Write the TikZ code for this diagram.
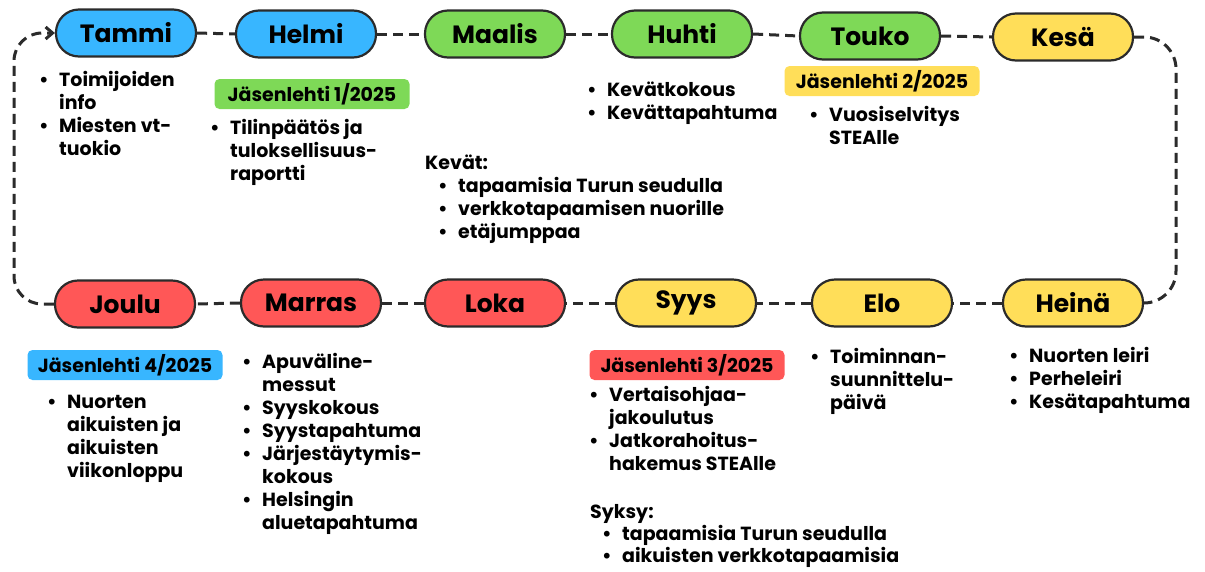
\documentclass[tikz,border=0pt]{standalone}
\usepackage{fontspec}
\setmainfont{Poppins}
\usepackage{tikz}
\usetikzlibrary{positioning, calc}
\usetikzlibrary{arrows.meta}

\definecolor{kblue}{HTML}{38B6FF}
\definecolor{kgreen}{HTML}{7ED957}
\definecolor{kyellow}{HTML}{FFDE59}
\definecolor{kred}{HTML}{FF5757}
\definecolor{kline}{HTML}{2B2B2B}

\newcommand{\bul}{\makebox[20pt][l]{\textbullet}}

\tikzset{
  month/.style={draw=kline, line width=2.2pt, rectangle, rounded corners=23pt,
    minimum width=140pt, minimum height=47pt, inner sep=0pt,
    font=\fontsize{25}{28}\selectfont\bfseries},
  lehti/.style={rectangle, rounded corners=5pt, minimum width=195pt,
    minimum height=30pt, inner sep=0pt, font=\fontsize{19}{21}\selectfont\bfseries},
  items/.style={anchor=base west, inner sep=0pt, align=left,
    font=\fontsize{19}{23}\selectfont\bfseries},
  link/.style={draw=kline, line width=3pt, dash pattern=on 10pt off 6pt}
}

\begin{document}
\begin{tikzpicture}[x=1pt,y=-1pt]
\useasboundingbox (0,0) rectangle (1205,571);

% months, top row
\node[month, fill=kblue]   (tammi)  at (126,33)  {Tammi};
\node[month, fill=kblue]   (helmi)  at (306,34)  {Helmi};
\node[month, fill=kgreen]  (maalis) at (495,34)  {Maalis};
\node[month, fill=kgreen]  (huhti)  at (682,34)  {Huhti};
\node[month, fill=kgreen]  (touko)  at (870,36)  {Touko};
\node[month, fill=kyellow] (kesa)   at (1063,37) {Kesä};

% months, bottom row
\node[month, fill=kred]    (joulu)  at (125,304) {Joulu};
\node[month, fill=kred]    (marras) at (311,303) {Marras};
\node[month, fill=kred]    (loka)   at (495,303) {Loka};
\node[month, fill=kyellow] (syys)   at (686,303) {Syys};
\node[month, fill=kyellow] (elo)    at (882,303) {Elo};
\node[month, fill=kyellow] (heina)  at (1073,303) {Heinä};

% lehdet
\node[lehti, fill=kgreen]  (lehti1) at (312,94)  {Jäsenlehti 1/2025};
\node[lehti, fill=kyellow] (lehti2) at (882,81)  {Jäsenlehti 2/2025};
\node[lehti, fill=kred]    (lehti3) at (687,365) {Jäsenlehti 3/2025};
\node[lehti, fill=kblue]   (lehti4) at (125,365) {Jäsenlehti 4/2025};

% tapahtumat
\node[items] (tammiTxt) at (39,86) {\begin{tabular}[t]{@{}l@{}l@{}}
  \bul & Toimijoiden\\ & info\\ \bul & Miesten vt-\\ & tuokio\end{tabular}};
\node[items] (helmiTxt) at (210,134) {\begin{tabular}[t]{@{}l@{}l@{}}
  \bul & Tilinpäätös ja\\ & tuloksellisuus-\\ & raportti\end{tabular}};
\node[items] (huhtiTxt) at (587,96) {\begin{tabular}[t]{@{}l@{}l@{}}
  \bul & Kevätkokous\\ \bul & Kevättapahtuma\end{tabular}};
\node[items] (toukoTxt) at (809,121) {\begin{tabular}[t]{@{}l@{}l@{}}
  \bul & Vuosiselvitys\\ & STEAlle\end{tabular}};
\node[items] (kevat) at (425,169) {\begin{tabular}[t]{@{}l@{}l@{}l@{}}
  \multicolumn{3}{@{}l@{}}{Kevät:}\\
  \hspace{13pt} & \bul & tapaamisia Turun seudulla\\
  & \bul & verkkotapaamisen nuorille\\
  & \bul & etäjumppaa\end{tabular}};

\node[items] (jouluTxt) at (47,408) {\begin{tabular}[t]{@{}l@{}l@{}}
  \bul & Nuorten\\ & aikuisten ja\\ & aikuisten\\ & viikonloppu\end{tabular}};
\node[items] (marrasTxt) at (242,368) {\begin{tabular}[t]{@{}l@{}l@{}}
  \bul & Apuväline-\\ & messut\\ \bul & Syyskokous\\ \bul & Syystapahtuma\\
  \bul & Järjestäytymis-\\ & kokous\\ \bul & Helsingin\\ & aluetapahtuma\end{tabular}};
\node[items] (syysTxt) at (589,401) {\begin{tabular}[t]{@{}l@{}l@{}}
  \bul & Vertaisohjaa-\\ & jakoulutus\\ \bul & Jatkorahoitus-\\ & hakemus STEAlle\end{tabular}};
\node[items] (eloTxt) at (810,363) {\begin{tabular}[t]{@{}l@{}l@{}}
  \bul & Toiminnan-\\ & suunnittelu-\\ & päivä\end{tabular}};
\node[items] (heinaTxt) at (1009,362) {\begin{tabular}[t]{@{}l@{}l@{}}
  \bul & Nuorten leiri\\ \bul & Perheleiri\\ \bul & Kesätapahtuma\end{tabular}};
\node[items, font=\fontsize{19}{22}\selectfont\bfseries] (syksy) at (590,518)
  {\begin{tabular}[t]{@{}l@{}l@{}l@{}}
  \multicolumn{3}{@{}l@{}}{Syksy:}\\
  \hspace{12pt} & \bul & tapaamisia Turun seudulla\\
  & \bul & aikuisten verkkotapaamisia\end{tabular}};

% aikajana
\coordinate (rloop) at (1176,170);
\coordinate (lloop) at (14,170);
\draw[link] (tammi.east) -- (helmi.west);
\draw[link] (helmi.east) -- (maalis.west);
\draw[link] (maalis.east) -- (huhti.west);
\draw[link] (huhti.east) -- (touko.west);
\draw[link] (touko.east) -- (kesa.west);
\draw[link, rounded corners=32pt] (kesa.east) -| (rloop) |- (heina.east);
\draw[link] (heina.west) -- (elo.east);
\draw[link] (elo.west) -- (syys.east);
\draw[link] (syys.west) -- (loka.east);
\draw[link] (loka.west) -- (marras.east);
\draw[link] (marras.west) -- (joulu.east);
\draw[link, rounded corners=28pt, -{Straight Barb[length=7pt,width=12pt]}]
  (joulu.west) -| (lloop) |- (tammi.west);
\end{tikzpicture}
\end{document}
